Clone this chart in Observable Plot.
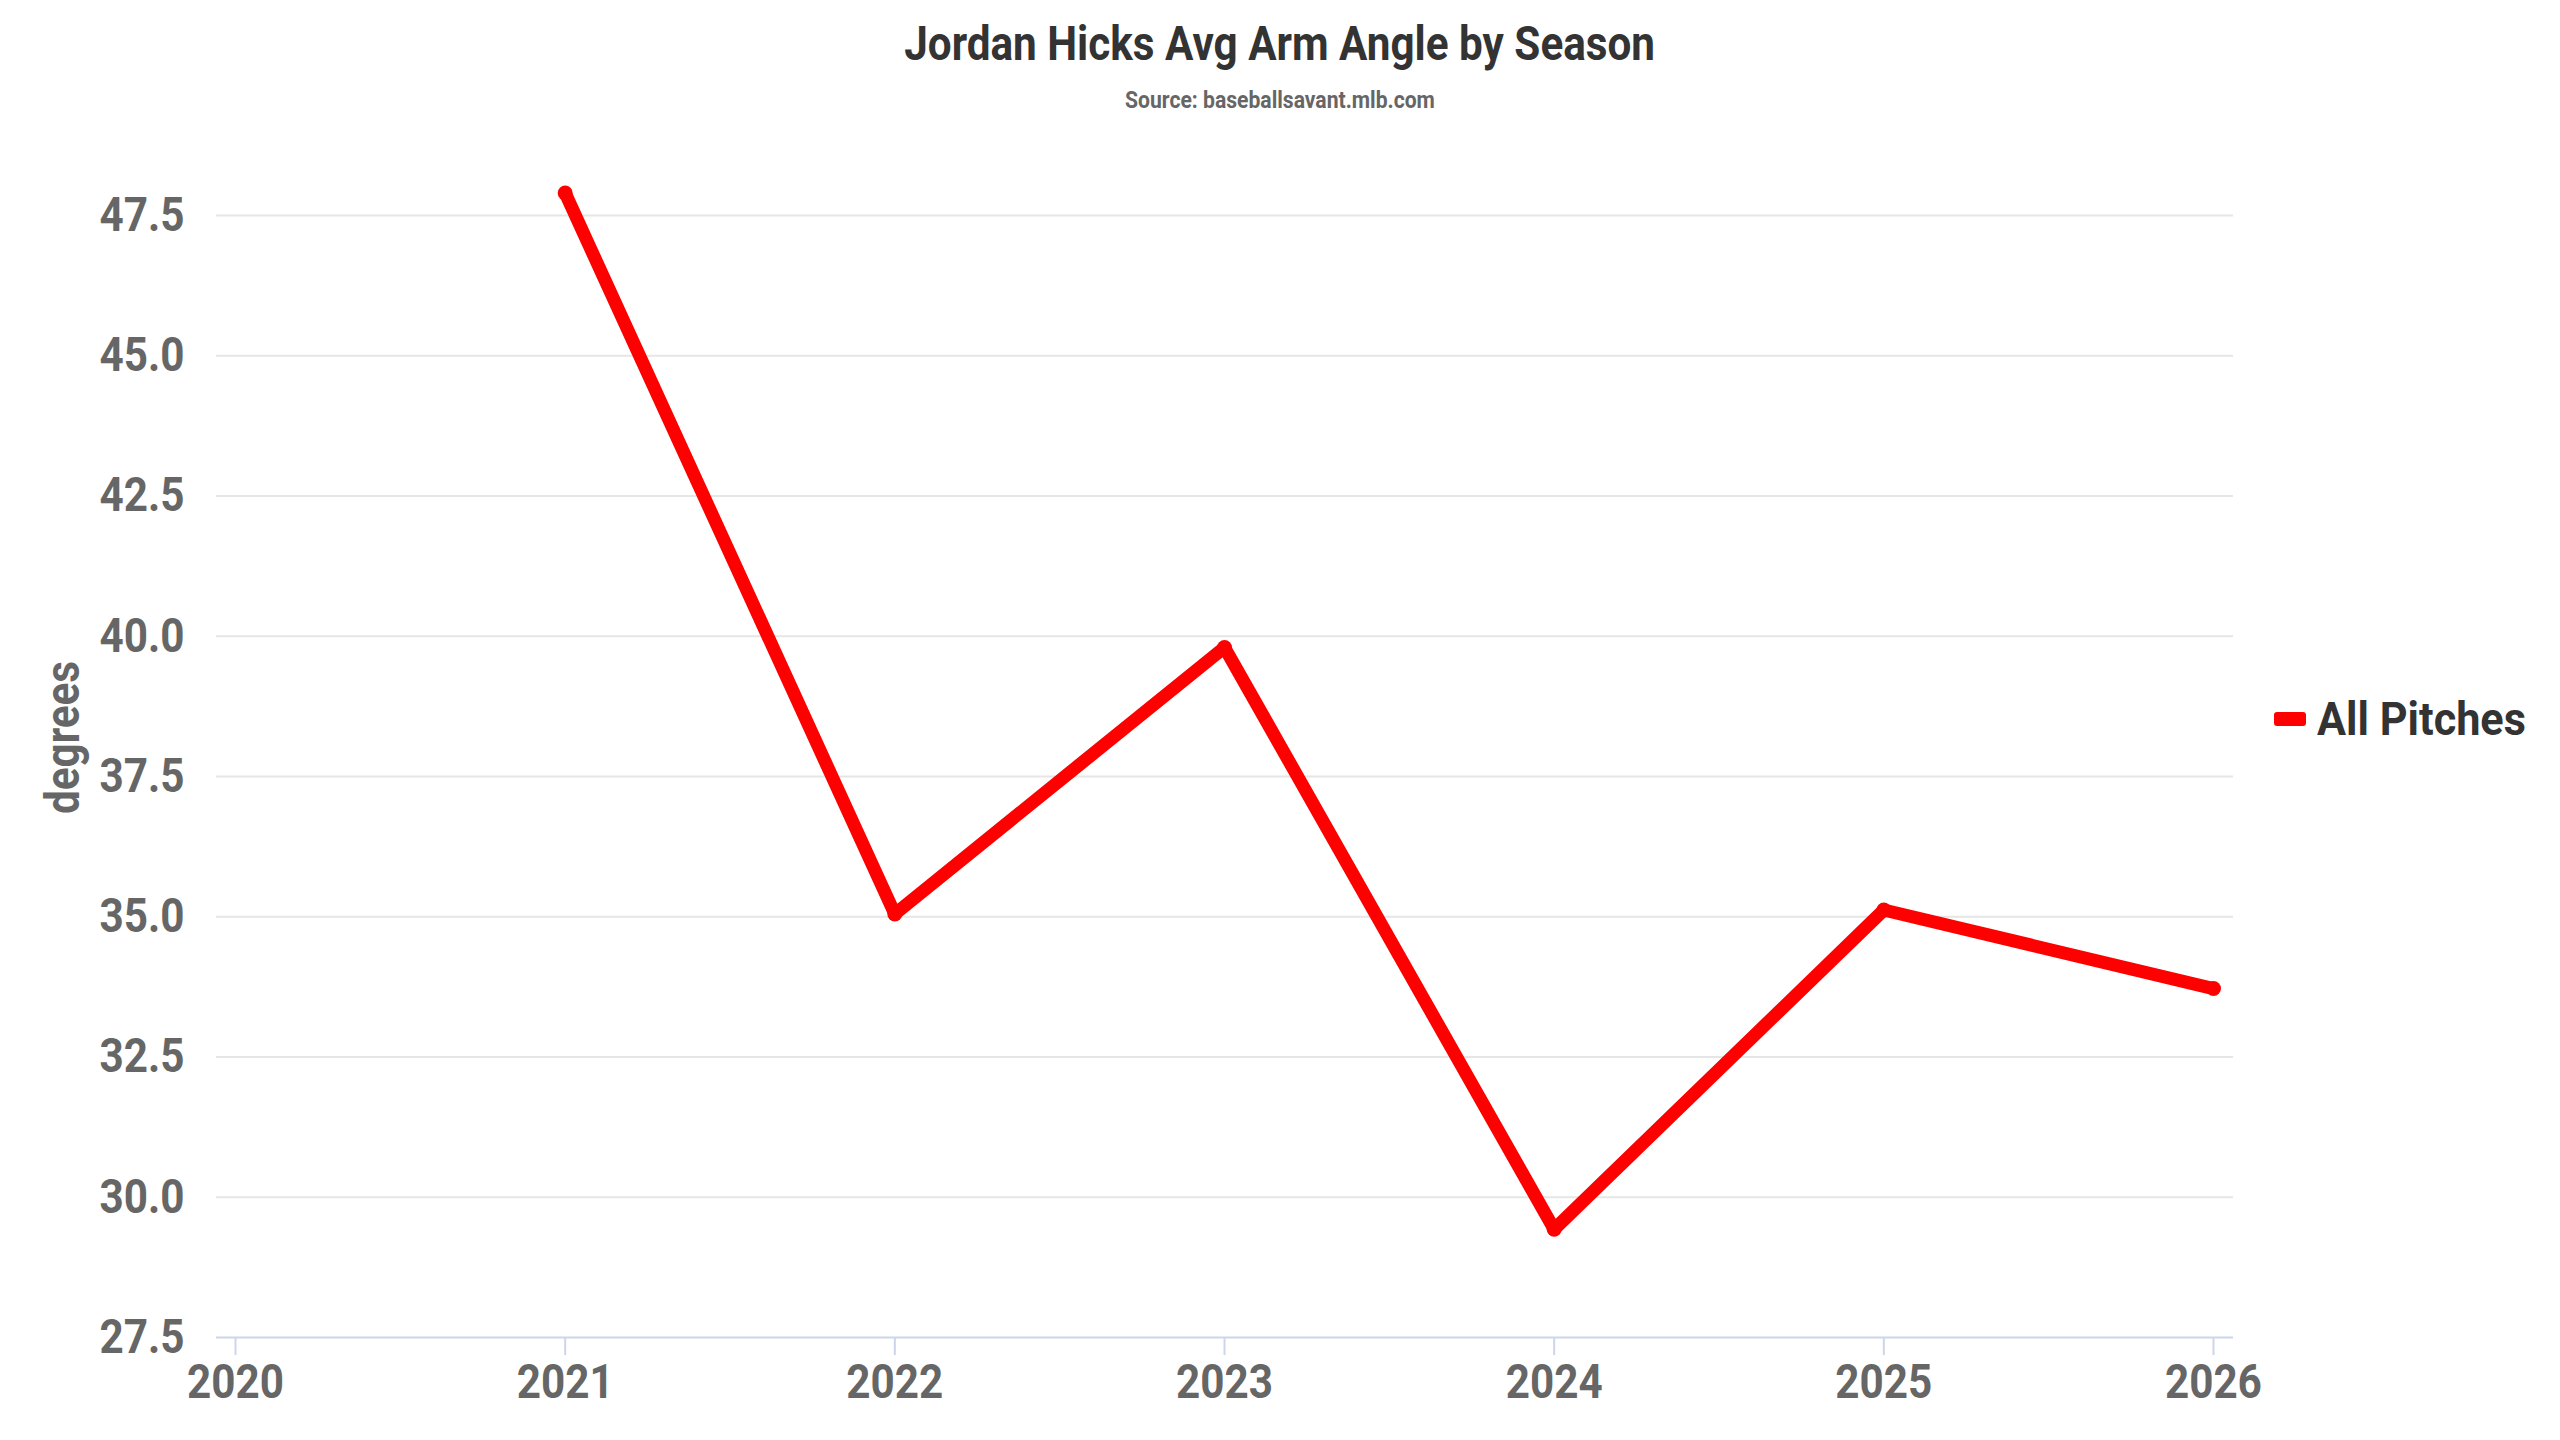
<!DOCTYPE html>
<html>
<head>
<meta charset="utf-8">
<script src="https://cdn.jsdelivr.net/npm/d3@7"></script>
<script src="https://cdn.jsdelivr.net/npm/@observablehq/plot@0.6"></script>
<style>
  html, body { margin: 0; padding: 0; background: #fff; }
  #wrap { position: relative; width: 2560px; height: 1440px; font-family: Roboto, "Noto Sans", sans-serif; font-weight: 700; }
  .cond { display: inline-block; transform: scaleX(0.88); white-space: nowrap; }
  #title { position: absolute; top: 20px; left: 0; width: 2560px; text-align: center; font-size: 48px; line-height: 48px; color: #333; }
  #subtitle { position: absolute; top: 88px; left: 0; width: 2560px; text-align: center; font-size: 24px; line-height: 24px; color: #666; }
  #chart { position: absolute; top: 120px; left: 0; }
  #legend { position: absolute; left: 2274px; top: 695px; height: 48px; display: flex; align-items: center; }
  #legend .sym { width: 32px; height: 14px; background: #ff0000; border-radius: 3px; margin-right: 11px; }
  #legend .cond { transform: scaleX(0.92); transform-origin: left center; font-size: 47px; line-height: 48px; color: #333; }
</style>
</head>
<body>
<div id="wrap">
  <div id="title"><span class="cond">Jordan Hicks Avg Arm Angle by Season</span></div>
  <div id="subtitle"><span class="cond">Source: baseballsavant.mlb.com</span></div>
  <div id="chart"></div>
  <div id="legend"><div class="sym"></div><span class="cond">All Pitches</span></div>
</div>
<script>
// seasons and avg arm angle (degrees)
const seasons = [2021, 2022, 2023, 2024, 2025, 2026];
const armAngle = [47.9, 35.05, 39.8, 29.43, 35.12, 33.72];
const xTicks = [2020, 2021, 2022, 2023, 2024, 2025, 2026];
const yTicks = [27.5, 30, 32.5, 35, 37.5, 40, 42.5, 45, 47.5];
const seriesName = "All Pitches";

const data = seasons.map((s, i) => ({season: s, angle: armAngle[i], series: seriesName}));

const textStyle = {fill: "#666", fontSize: 48, fontWeight: 700};

const chart = Plot.plot({
  width: 2560,
  height: 1320,
  marginLeft: 216,
  marginRight: 327,
  marginTop: 95,
  marginBottom: 103,
  style: {fontFamily: "Roboto, 'Noto Sans', sans-serif", background: "#fff", overflow: "visible"},
  x: {domain: [xTicks[0], xTicks[xTicks.length - 1]], insetLeft: 19, insetRight: 20},
  y: {domain: [yTicks[0], yTicks[yTicks.length - 1]]},
  marks: [
    Plot.gridY(yTicks.slice(1), {stroke: "#e6e6e6", strokeOpacity: 1, strokeWidth: 2}),
    Plot.ruleY([yTicks[0]], {stroke: "#ccd6eb", strokeWidth: 2}),
    Plot.axisX({ticks: xTicks, tickFormat: (d) => `${d}`, tickSize: 18, tickPadding: 8, stroke: "#ccd6eb", strokeWidth: 2, label: null, ...textStyle}),
    Plot.axisY({ticks: yTicks, tickFormat: d3.format(".1f"), tickSize: 0, tickPadding: 32, label: null, ...textStyle}),
    Plot.text(["degrees"], {frameAnchor: "left", textAnchor: "middle", rotate: -90, dx: -153, dy: -39, ...textStyle}),
    Plot.line(data, {x: "season", y: "angle", stroke: "#ff0000", strokeWidth: 13, strokeLinejoin: "round", strokeLinecap: "round"}),
    Plot.dot(data, {x: "season", y: "angle", r: 7.5, fill: "#ff0000"})
  ]
});

d3.select("#chart").append(() => chart);

// no condensed font installed, so squeeze the svg texts a bit
d3.select(chart).selectAll("text").each(function () {
  const len = this.getComputedTextLength();
  if (len > 0) {
    this.setAttribute("textLength", len * 0.88);
    this.setAttribute("lengthAdjust", "spacingAndGlyphs");
  }
});
</script>
</body>
</html>
